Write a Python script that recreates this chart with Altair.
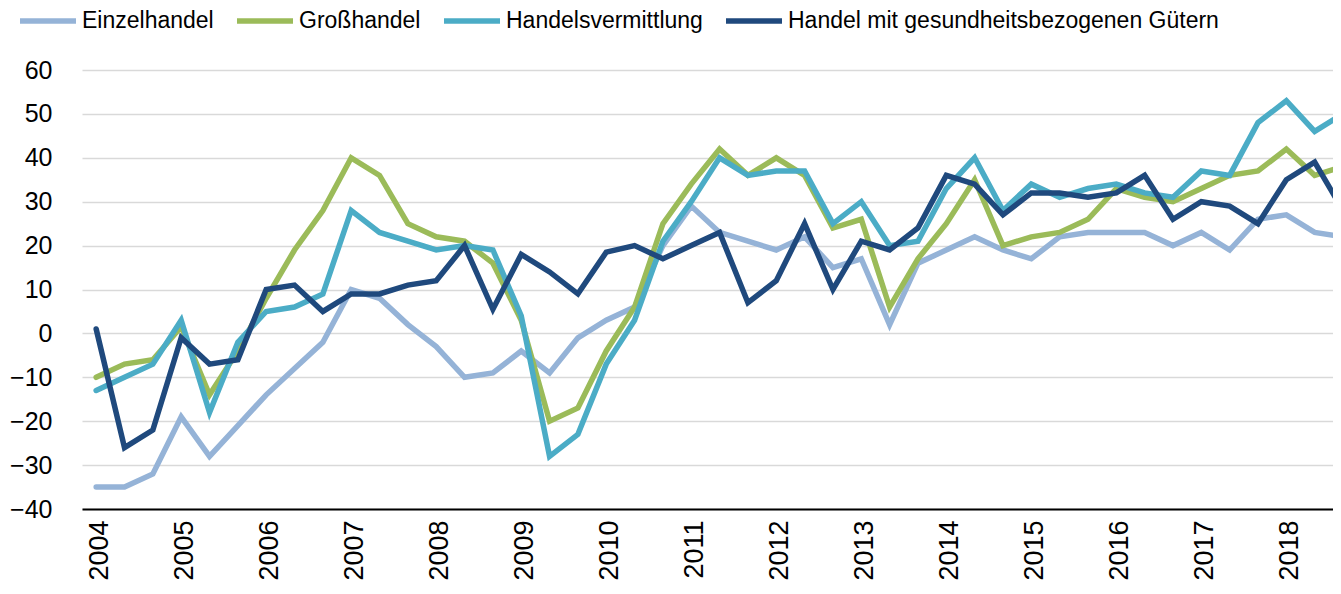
import altair as alt
import pandas as pd

series_names = [
    "Einzelhandel",
    "Großhandel",
    "Handelsvermittlung",
    "Handel mit gesundheitsbezogenen Gütern",
]
series_colors = ["#95B3D7", "#9BBB59", "#4BACC6", "#1F497D"]

# three observations per year, 2004 (first) .. 2018 (third)
einzelhandel = [-35, -35, -32, -19, -28, -21, -14, -8, -2, 10, 8, 2, -3, -10, -9,
                -4, -9, -1, 3, 6, 20, 29, 23, 21, 19, 22, 15, 17, 2, 16,
                19, 22, 19, 17, 22, 23, 23, 23, 20, 23, 19, 26, 27, 23, 22]
grosshandel = [-10, -7, -6, 1.5, -14, -4, 8, 19, 28, 40, 36, 25, 22, 21, 16,
               3, -20, -17, -4, 6, 25, 34, 42, 36, 40, 36, 24, 26, 6, 17,
               25, 35, 20, 22, 23, 26, 33, 31, 30, 33, 36, 37, 42, 36, 38]
handelsvermittlung = [-13, -10, -7, 3, -18, -2, 5, 6, 9, 28, 23, 21, 19, 20, 19,
                      4, -28, -23, -7, 3, 21, 30, 40, 36, 37, 37, 25, 30, 20, 21,
                      33, 40, 28, 34, 31, 33, 34, 32, 31, 37, 36, 48, 53, 46, 50]
gesundheit = [1, -26, -22, -1, -7, -6, 10, 11, 5, 9, 9, 11, 12, 20, 5.5,
              18, 14, 9, 18.5, 20, 17, 20, 23, 7, 12, 25, 10, 21, 19, 24,
              36, 34, 27, 32, 32, 31, 32, 36, 26, 30, 29, 25, 35, 39, 28]

years = list(range(2004, 2019))
y_ticks = list(range(-40, 61, 10))

rows = []
for name, vals in zip(series_names, [einzelhandel, grosshandel, handelsvermittlung, gesundheit]):
    for i, v in enumerate(vals):
        rows.append({"idx": i, "value": v, "series": name})
df = pd.DataFrame(rows)

year_ticks = [3 * (y - 2004) for y in years]

chart = alt.Chart(df).mark_line(
    strokeWidth=5.5, clip=True, strokeJoin="miter", strokeCap="round"
).encode(
    x=alt.X(
        "idx:Q",
        scale=alt.Scale(domain=[-0.5, 43.647], nice=False, zero=False),
        axis=alt.Axis(
            values=year_ticks,
            labelExpr="2004 + datum.value / 3",
            labelAngle=270,
            labelFont="Liberation Sans",
            labelFontSize=27,
            labelColor="black",
            labelPadding=11,
            labelOffset=3,
            labelFlush=False,
            labelOverlap=False,
            labelBound=False,
            ticks=False,
            grid=False,
            domainColor="black",
            domainWidth=2,
            title=None,
        ),
    ),
    y=alt.Y(
        "value:Q",
        scale=alt.Scale(domain=[-40, 60], nice=False, zero=False),
        axis=alt.Axis(
            values=y_ticks,
            labelFont="Liberation Sans",
            labelFontSize=25,
            labelColor="black",
            labelPadding=30,
            ticks=False,
            domain=False,
            grid=True,
            gridColor="#D9D9D9",
            gridWidth=1.5,
            title=None,
        ),
    ),
    color=alt.Color(
        "series:N",
        scale=alt.Scale(domain=series_names, range=series_colors),
        sort=series_names,
        legend=alt.Legend(
            orient="none",
            legendX=-65,
            legendY=-80,
            direction="horizontal",
            title=None,
            symbolType="stroke",
            symbolSize=3136,
            symbolStrokeWidth=5.5,
            labelFont="Liberation Sans",
            labelFontSize=23,
            labelColor="black",
            labelOffset=3,
            labelLimit=0,
            columnPadding=12,
        ),
    ),
    order=alt.Order("idx:Q"),
).properties(
    width=1251,
    height=439,
    autosize=alt.AutoSizeParams(type="none"),
    padding={"left": 74, "top": 62, "right": 0, "bottom": 72},
).configure_view(stroke=None)

chart.save("out.html", embed_options={"renderer": "svg", "actions": False})
